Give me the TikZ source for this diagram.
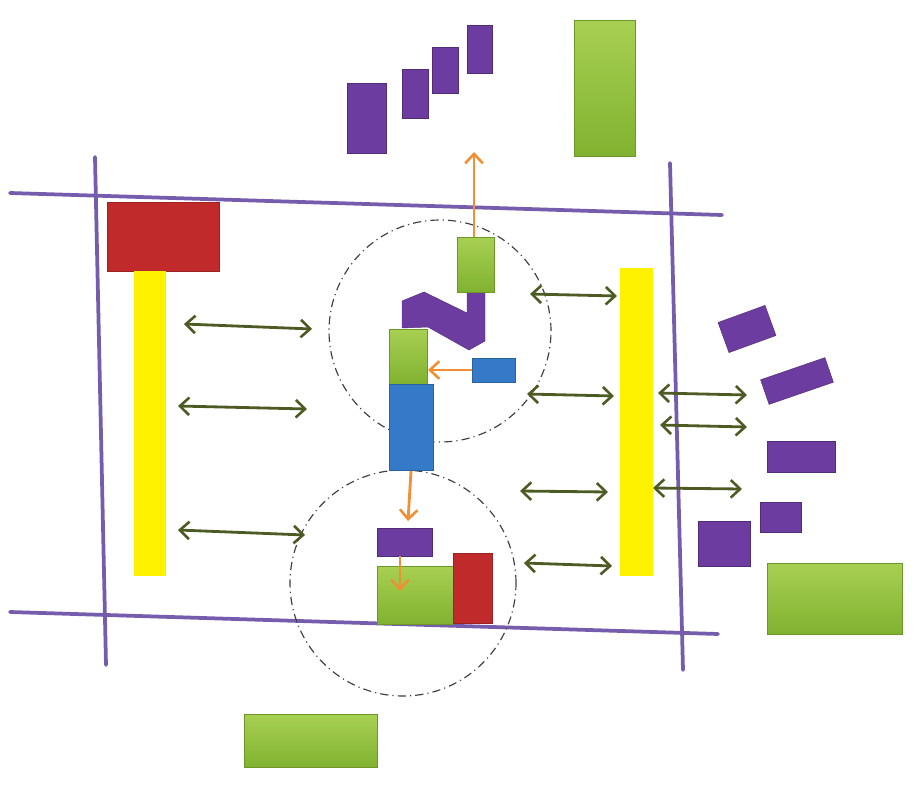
\documentclass[tikz,border=0pt]{standalone}
\usetikzlibrary{arrows.meta}
\definecolor{wallpurple}{RGB}{118,92,172}
\definecolor{blkpurple}{RGB}{108,60,160}
\definecolor{greentop}{RGB}{168,208,82}
\definecolor{greenbot}{RGB}{128,178,48}
\definecolor{blkred}{RGB}{192,42,42}
\definecolor{blkblue}{RGB}{52,122,200}
\definecolor{baryellow}{RGB}{255,242,0}
\definecolor{arrowgreen}{RGB}{78,90,36}
\definecolor{arroworange}{RGB}{242,142,52}
\begin{document}
\begin{tikzpicture}[x=0.03cm,y=-0.03cm,
  wall/.style={wallpurple,line width=3.2pt,line cap=round},
  purpleblk/.style={fill=blkpurple,draw=blkpurple!75!black,line width=0.4pt},
  greenblk/.style={top color=greentop,bottom color=greenbot,draw=greenbot!85!black,line width=0.3pt},
  redblk/.style={fill=blkred,draw=blkred!80!black,line width=0.3pt},
  blueblk/.style={fill=blkblue,draw=blkblue!80!black,line width=0.3pt},
  yellowbar/.style={fill=baryellow,draw=none},
  zone/.style={draw=black!75,line width=1pt,dash pattern=on 7pt off 3.5pt on 1pt off 3.5pt},
  swap/.style={{Straight Barb[length=8pt,width=15pt,line width=2.2pt]}-{Straight Barb[length=8pt,width=15pt,line width=2.2pt]},arrowgreen,line width=2.4pt},
  move/.style={-{Straight Barb[length=8pt,width=15pt,line width=2.2pt]},arroworange,line width=2.4pt}
]
\useasboundingbox (0,0) rectangle (919,785);

% walls
\coordinate (topL) at (10,193);  \coordinate (topR) at (722,215);
\coordinate (botL) at (10,612);  \coordinate (botR) at (718,634);
\coordinate (lftT) at (95,157);  \coordinate (lftB) at (106,665);
\coordinate (rgtT) at (670,163); \coordinate (rgtB) at (683,670);
\draw[wall] (topL) -- (topR);
\draw[wall] (botL) -- (botR);
\draw[wall] (lftT) -- (lftB);
\draw[wall] (rgtT) -- (rgtB);

% left side
\path[redblk] (107,202) rectangle (219,271);
\path[yellowbar] (134,271) rectangle (166,576);

% right side
\path[yellowbar] (620,268) rectangle (653,576);

% zones
\node[zone,circle,minimum size=6.66cm,inner sep=0pt] (upper) at (440,331) {};
\node[zone,circle,minimum size=6.78cm,inner sep=0pt] (lower) at (403,583) {};

% upper zone contents
\path[purpleblk] (402,328) -- (402,301) -- (424,292) -- (467,313) -- (467,291)
  -- (485,291) -- (485,341) -- (469,350) -- (428,327) -- cycle;
\path[greenblk] (457,237) rectangle (494,292);
\path[greenblk] (389,329) rectangle (427,384);
\path[blueblk] (389,384) rectangle (433,470);
\path[blueblk] (472,358) rectangle (515,382);

% lower zone contents
\path[purpleblk] (377,528) rectangle (432,556);
\path[greenblk] (377,566) rectangle (453,624);
\path[redblk] (453,553) rectangle (492,623);

% outside blocks
\path[purpleblk] (347,83) rectangle (386,153);
\path[purpleblk] (402,69) rectangle (428,118);
\path[purpleblk] (432,47) rectangle (458,93);
\path[purpleblk] (467,25) rectangle (492,73);
\path[greenblk] (574,20) rectangle (635,156);
\path[purpleblk] (747,329) ++(-25,-16) [rotate around={20:(747,329)}] rectangle ++(50,32);
\path[purpleblk] (797,381) ++(-34,-13) [rotate around={19:(797,381)}] rectangle ++(68,26);
\path[purpleblk] (767,441) rectangle (835,472);
\path[purpleblk] (760,502) rectangle (801,532);
\path[purpleblk] (698,521) rectangle (750,566);
\path[greenblk] (767,563) rectangle (902,634);
\path[greenblk] (244,714) rectangle (377,767);

% orange moves
\coordinate (exitS) at (474,237);  \coordinate (exitE) at (474,152);
\coordinate (feedS) at (472,370);  \coordinate (feedE) at (428,370);
\coordinate (dropS) at (411,471);  \coordinate (dropE) at (408,521);
\coordinate (sinkS) at (400,556);  \coordinate (sinkE) at (400,591);
\draw[move] (exitS) -- (exitE);
\draw[move] (feedS) -- (feedE);
\draw[move] (dropS) -- (dropE);
\draw[move] (sinkS) -- (sinkE);

% exchanges
\foreach \n/\xa/\ya/\xb/\yb in {l1/184/324/312/329, l2/178/406/307/409, l3/178/530/305/535,
    m1/530/294/617/296, m2/527/394/614/396, m3/520/491/608/492, m4/524/563/612/566,
    r1/658/393/747/395, r2/660/425/747/427, r3/653/488/742/489}{
  \coordinate (\n a) at (\xa,\ya);
  \coordinate (\n b) at (\xb,\yb);
  \draw[swap] (\n a) -- (\n b);
}
\end{tikzpicture}
\end{document}
